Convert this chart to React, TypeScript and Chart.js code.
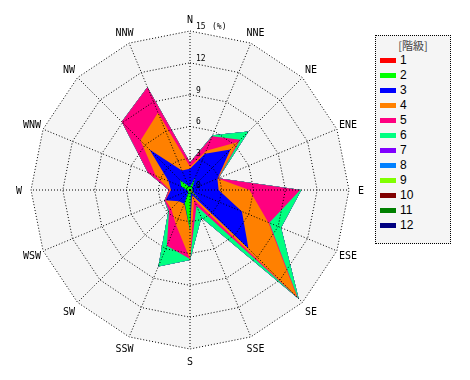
import React, { useEffect, useRef } from "react";
import { Chart, registerables } from "chart.js";

Chart.register(...registerables);

// 16 wind directions (clockwise from north)
const directions = ["N", "NNE", "NE", "ENE", "E", "ESE", "SE", "SSE", "S", "SSW", "SW", "WSW", "W", "WNW", "NW", "NNW"];

// wind-speed classes (階級)
const classLabels = ["1", "2", "3", "4", "5", "6", "7", "8", "9", "10", "11", "12"];
const classColors = ["#ff0000", "#00ff00", "#0000ff", "#ff8000", "#ff0080", "#00ff80", "#8000ff", "#0080ff", "#80ff00", "#800000", "#008000", "#000080"];

// frequency (%) of each class per direction, N → NNW
const class1 = [0.1, 0.1, 0.1, 0.1, 0.2, 0.1, 1.5, 0.1, 0.2, 0.1, 0.1, 0.1, 0.1, 0.1, 0.1, 0.1];
const class2 = [0.2, 1.2, 0.2, 0.1, 0.1, 0.1, 0.0, 0.1, 3.6, 1.2, 0.1, 0.1, 0.2, 0.8, 1.2, 0.3];
const class3 = [1.7, 2.4, 5.1, 2.6, 2.4, 5.1, 6.3, 0.3, 0.0, 0.1, 1.3, 2.3, 1.5, 1.3, 4.1, 1.6];
const class4 = [0.2, 0.3, 1.0, 0.05, 2.9, 2.7, 6.5, 0.5, 2.7, 2.1, 1.0, 0.0, 0.1, 1.3, 1.2, 5.9];
const class5 = [0.4, 1.5, 0.3, 0.05, 4.8, 0.1, 0.1, 0.6, 0.0, 2.2, 0.3, 0.1, 0.1, 0.8, 2.5, 2.6];
const class6 = [0.0, 0.1, 1.1, 0.0, 0.1, 1.2, 0.1, 1.2, 0.1, 2.1, 0.1, 0.0, 0.0, 0.0, 0.0, 0.0];
const class7 = [0, 0, 0, 0, 0, 0, 0, 0, 0, 0, 0, 0, 0, 0, 0, 0];
const class8 = [0, 0, 0, 0, 0, 0, 0, 0, 0, 0, 0, 0, 0, 0, 0, 0];
const class9 = [0, 0, 0, 0, 0, 0, 0, 0, 0, 0, 0, 0, 0, 0, 0, 0];
const class10 = [0, 0, 0, 0, 0, 0, 0, 0, 0, 0, 0, 0, 0, 0, 0, 0];
const class11 = [0, 0, 0, 0, 0, 0, 0, 0, 0, 0, 0, 0, 0, 0, 0, 0];
const class12 = [0, 0, 0, 0, 0, 0, 0, 0, 0, 0, 0, 0, 0, 0, 0, 0];

const radialTicks = [0, 3, 6, 9, 12, 15];
const unitLabel = "(%)";
const legendTitle = "[階級]";

const BG = "#f5f5f5";

const windRosePlugin = {
  id: "windRose",
  beforeDatasetsDraw(chart: any) {
    const s = chart.scales.r;
    const ctx = chart.ctx;
    ctx.save();
    ctx.beginPath();
    directions.forEach((_, i) => {
      const p = s.getPointPosition(i, s.drawingArea);
      if (i === 0) ctx.moveTo(p.x, p.y);
      else ctx.lineTo(p.x, p.y);
    });
    ctx.closePath();
    ctx.fillStyle = BG;
    ctx.fill();
    ctx.restore();
  },
  afterDraw(chart: any) {
    const s = chart.scales.r;
    const ctx = chart.ctx;
    ctx.save();
    ctx.fillStyle = "#000";
    // direction labels
    ctx.font = "10px 'DejaVu Sans Mono'";
    ctx.textAlign = "center";
    ctx.textBaseline = "middle";
    directions.forEach((d, i) => {
      const p = s.getPointPosition(i, s.drawingArea + 12);
      ctx.fillText(d, p.x, p.y + 1);
    });
    // radial tick labels
    ctx.font = "8px 'DejaVu Sans Mono'";
    ctx.textAlign = "left";
    radialTicks.forEach((v) => {
      const r = s.getDistanceFromCenterForValue(v);
      const x = s.xCenter + 6;
      const y = s.yCenter - r - 4;
      ctx.fillText(String(v), x, y);
      if (v === radialTicks[radialTicks.length - 1]) {
        ctx.fillText(unitLabel, x + 16, y);
      }
    });
    ctx.restore();
  },
};

export default function App() {
  const ref = useRef<HTMLCanvasElement>(null);

  useEffect(() => {
    const series = [class1, class2, class3, class4, class5, class6, class7, class8, class9, class10, class11, class12];
    const cumulative: number[][] = [];
    series.forEach((arr, k) => {
      cumulative.push(arr.map((v, i) => (k === 0 ? v : cumulative[k - 1][i] + v)));
    });
    const chart = new Chart(ref.current as HTMLCanvasElement, {
      type: "radar",
      data: {
        labels: directions,
        datasets: classLabels.map((label, k) => ({
          label,
          data: cumulative[k],
          backgroundColor: classColors[k],
          borderColor: classColors[k],
          borderWidth: 0,
          pointRadius: 0,
          pointHoverRadius: 0,
          fill: "origin",
        })),
      },
      options: {
        responsive: false,
        animation: false,
        devicePixelRatio: 1,
        layout: { padding: { left: 31, top: 31, right: 121, bottom: 31 } },
        elements: { line: { tension: 0 } },
        plugins: { legend: { display: false }, tooltip: { enabled: false } },
        scales: {
          r: {
            min: 0,
            max: 15,
            startAngle: 0,
            ticks: { display: false, stepSize: 3 },
            pointLabels: { display: false },
            grid: { color: "#000", lineWidth: 1, z: 1 },
            border: { dash: [1, 2] },
            angleLines: { display: true, color: "#000", lineWidth: 1, borderDash: [1, 2] },
          },
        },
      } as any,
      plugins: [windRosePlugin],
    });
    return () => chart.destroy();
  }, []);

  return (
    <div style={{ position: "absolute", left: 0, top: 0, width: 470, height: 380, background: "#fff" }}>
      <canvas ref={ref} width={470} height={380} style={{ display: "block" }} />
      <div
        style={{
          position: "absolute",
          left: 375,
          top: 35,
          width: 74,
          height: 207,
          border: "1px dotted #000",
          background: BG,
          fontFamily: "'Liberation Sans', Arial, sans-serif",
        }}
      >
        <div
          style={{
            position: "absolute",
            left: 0,
            top: 2,
            width: 74,
            textAlign: "center",
            fontSize: 11,
            lineHeight: "14px",
            color: "#444",
            fontFamily: "'Noto Sans CJK JP', sans-serif",
          }}
        >
          {legendTitle}
        </div>
        {classLabels.map((label, k) => (
          <div key={label} style={{ position: "absolute", left: 4, top: 17 + k * 15, height: 14, display: "flex", alignItems: "center" }}>
            <span style={{ display: "inline-block", width: 16, height: 5, background: classColors[k] }} />
            <span style={{ marginLeft: 4, fontSize: 12, color: "#000", lineHeight: "14px" }}>{label}</span>
          </div>
        ))}
      </div>
    </div>
  );
}
